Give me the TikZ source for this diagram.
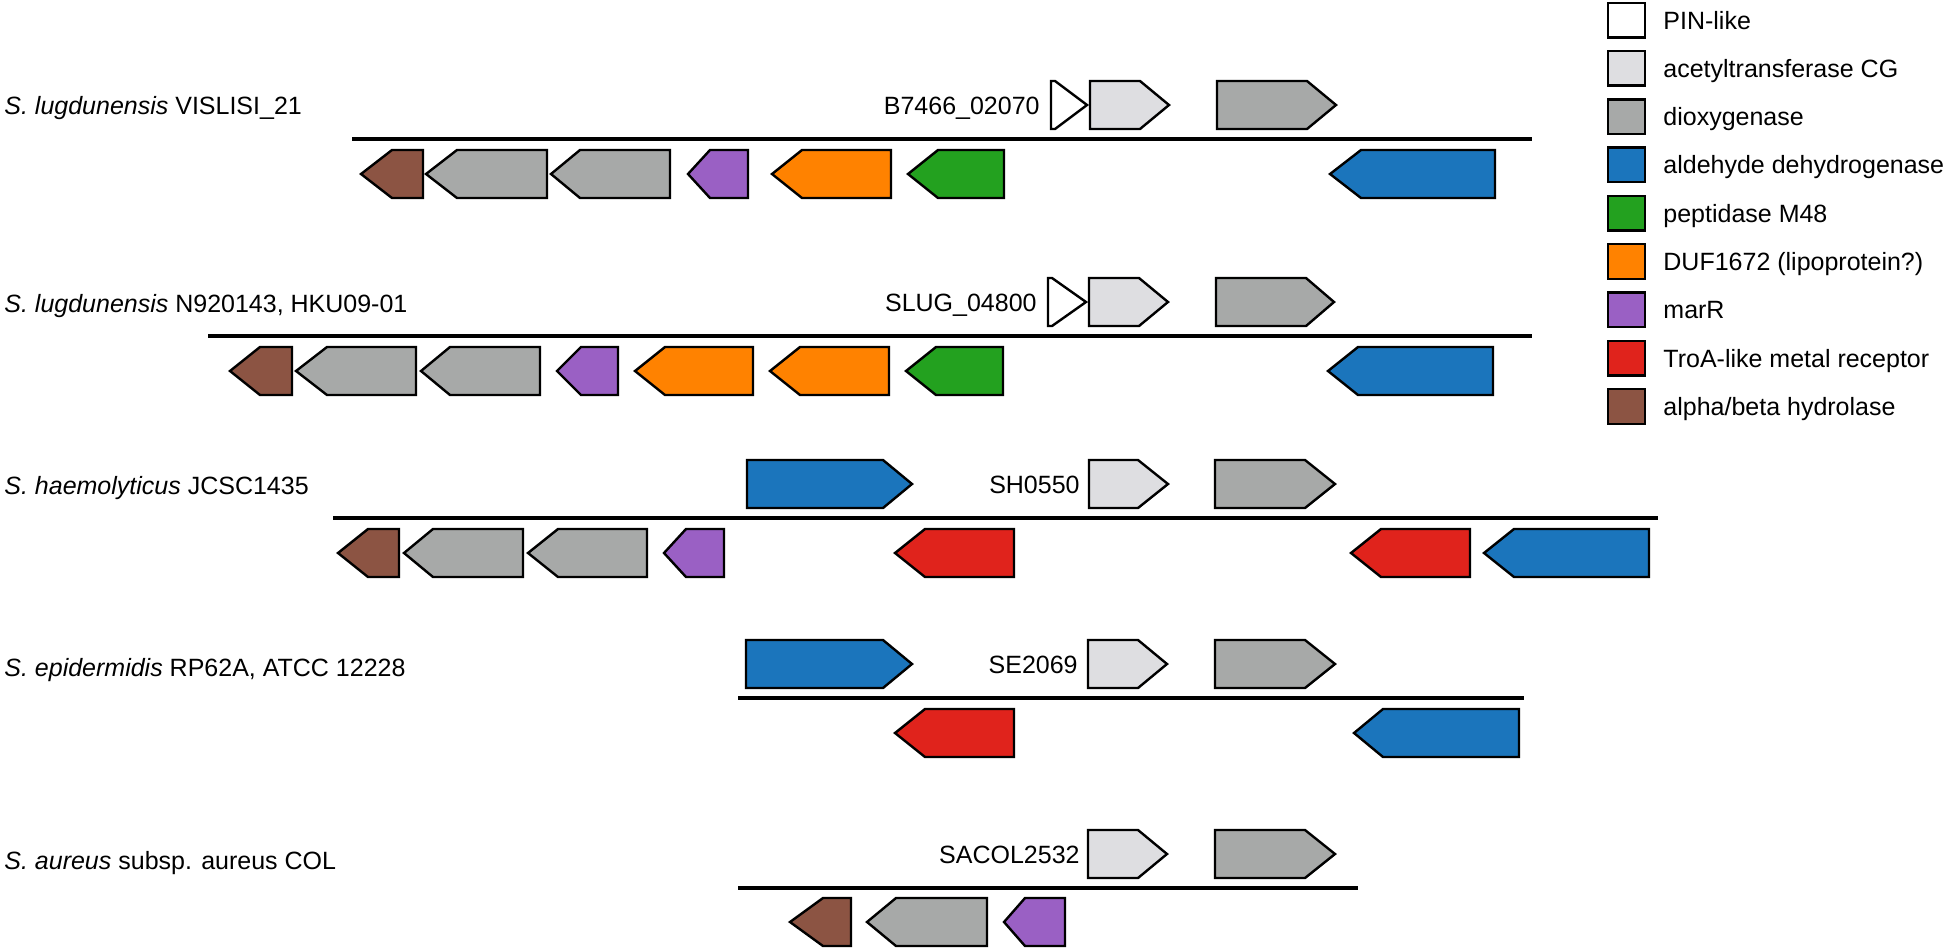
\documentclass[tikz,border=0pt]{standalone}
\usepackage{fontspec}
\setmainfont{Liberation Sans}
\usepackage{xcolor}
\usepackage{tikz}
\usetikzlibrary{positioning}

\definecolor{pinlike}{HTML}{FFFFFF}
\definecolor{acetyl}{HTML}{DEDEE1}
\definecolor{dioxy}{HTML}{A7A9A8}
\definecolor{aldehyde}{HTML}{1B75BC}
\definecolor{peptidase}{HTML}{23A11F}
\definecolor{duf}{HTML}{FF8200}
\definecolor{marr}{HTML}{9A60C4}
\definecolor{troa}{HTML}{E0231C}
\definecolor{hydrolase}{HTML}{8C5443}

\begin{document}
\begin{tikzpicture}[x=0.5pt,y=-0.5pt,
  gene/.style={draw=black,line width=1.2pt,line join=miter},
  chrom/.style={line width=2pt},
  species/.style={anchor=base west,inner sep=0pt,font=\fontsize{12.5}{15}\selectfont},
  locus/.style={anchor=base east,inner sep=0pt,font=\fontsize{12.5}{15}\selectfont},
  legbox/.style={draw=black,line width=1.2pt,minimum width=18.3pt,minimum height=17.3pt,inner sep=0pt},
  legtext/.style={inner sep=0pt,text height=9pt,text depth=0pt,font=\fontsize{12.5}{15}\selectfont}]
  \useasboundingbox (0,0) rectangle (1946,948);

  % S. lugdunensis VISLISI_21
  \begin{scope}[shift={(0,139)}]
    \draw[chrom] (352,0) -- (1532,0);
    \foreach \l/\b/\t/\c in {1051/1055/1087/pinlike,1090/1140/1169/acetyl,1217/1307/1336/dioxy}
      \draw[gene,fill=\c] (\l,-58) -- (\b,-58) -- (\t,-34) -- (\b,-10) -- (\l,-10) -- cycle;
    \foreach \t/\b/\r/\c in {361/392/423/hydrolase,426/457/547/dioxy,551/580/670/dioxy,688/710/748/marr,
                            772/802/891/duf,908/938/1004/peptidase,1330/1361/1495/aldehyde}
      \draw[gene,fill=\c] (\t,35) -- (\b,11) -- (\r,11) -- (\r,59) -- (\b,59) -- cycle;
    \node[species] (sp1) at (4,-25) {\textit{S. lugdunensis} VISLISI\_21};
    \node[locus] (tag1) at (1040,-25) {B7466\_02070};
  \end{scope}

  % S. lugdunensis N920143, HKU09-01
  \begin{scope}[shift={(0,336)}]
    \draw[chrom] (208,0) -- (1532,0);
    \foreach \l/\b/\t/\c in {1048/1052/1086/pinlike,1089/1139/1168/acetyl,1216/1306/1334/dioxy}
      \draw[gene,fill=\c] (\l,-58) -- (\b,-58) -- (\t,-34) -- (\b,-10) -- (\l,-10) -- cycle;
    \foreach \t/\b/\r/\c in {230/260/292/hydrolase,296/327/416/dioxy,421/450/540/dioxy,557/581/618/marr,
                            635/665/753/duf,770/800/889/duf,906/936/1003/peptidase,1328/1358/1493/aldehyde}
      \draw[gene,fill=\c] (\t,35) -- (\b,11) -- (\r,11) -- (\r,59) -- (\b,59) -- cycle;
    \node[species] (sp2) at (4,-24) {\textit{S. lugdunensis} N920143, HKU09-01};
    \node[locus] (tag2) at (1037,-25) {SLUG\_04800};
  \end{scope}

  % S. haemolyticus JCSC1435
  \begin{scope}[shift={(0,518)}]
    \draw[chrom] (333,0) -- (1658,0);
    \foreach \l/\b/\t/\c in {747/883/912/aldehyde,1089/1138/1168/acetyl,1215/1305/1335/dioxy}
      \draw[gene,fill=\c] (\l,-58) -- (\b,-58) -- (\t,-34) -- (\b,-10) -- (\l,-10) -- cycle;
    \foreach \t/\b/\r/\c in {338/368/399/hydrolase,404/433/523/dioxy,528/558/647/dioxy,664/686/724/marr,
                            895/925/1014/troa,1351/1381/1470/troa,1484/1514/1649/aldehyde}
      \draw[gene,fill=\c] (\t,35) -- (\b,11) -- (\r,11) -- (\r,59) -- (\b,59) -- cycle;
    \node[species] (sp3) at (4,-24) {\textit{S. haemolyticus} JCSC1435};
    \node[locus] (tag3) at (1080,-25) {SH0550};
  \end{scope}

  % S. epidermidis RP62A, ATCC 12228
  \begin{scope}[shift={(0,698)}]
    \draw[chrom] (738,0) -- (1524,0);
    \foreach \l/\b/\t/\c in {746/883/912/aldehyde,1088/1138/1167/acetyl,1215/1305/1335/dioxy}
      \draw[gene,fill=\c] (\l,-58) -- (\b,-58) -- (\t,-34) -- (\b,-10) -- (\l,-10) -- cycle;
    \foreach \t/\b/\r/\c in {895/925/1014/troa,1354/1383/1519/aldehyde}
      \draw[gene,fill=\c] (\t,35) -- (\b,11) -- (\r,11) -- (\r,59) -- (\b,59) -- cycle;
    \node[species] (sp4) at (4,-22) {\textit{S. epidermidis} RP62A, ATCC 12228};
    \node[locus] (tag4) at (1078,-25) {SE2069};
  \end{scope}

  % S. aureus subsp. aureus COL
  \begin{scope}[shift={(0,888)}]
    \draw[chrom] (738,0) -- (1358,0);
    \foreach \l/\b/\t/\c in {1088/1138/1167/acetyl,1215/1305/1335/dioxy}
      \draw[gene,fill=\c] (\l,-58) -- (\b,-58) -- (\t,-34) -- (\b,-10) -- (\l,-10) -- cycle;
    \foreach \t/\b/\r/\c in {790/823/851/hydrolase,867/896/987/dioxy,1004/1025/1065/marr}
      \draw[gene,fill=\c] (\t,34) -- (\b,10) -- (\r,10) -- (\r,58) -- (\b,58) -- cycle;
    \node[species] (sp5) at (4,-19) {\textit{S. aureus} subsp. aureus COL};
    \node[locus] (tag5) at (1080,-25) {SACOL2532};
  \end{scope}

  % legend
  \foreach \c/\t [count=\i from 0] in {pinlike/PIN-like,acetyl/acetyltransferase CG,dioxy/dioxygenase,
      aldehyde/aldehyde dehydrogenase,peptidase/peptidase M48,duf/DUF1672 (lipoprotein?),marr/marR,
      troa/TroA-like metal receptor,hydrolase/{alpha/beta hydrolase}}{
    \node[legbox,fill=\c] (key\i) at (1626.5,{20+48.3*\i}) {};
    \node[legtext,right=8.5pt of key\i] (keytext\i) {\t};
  }
\end{tikzpicture}
\end{document}
